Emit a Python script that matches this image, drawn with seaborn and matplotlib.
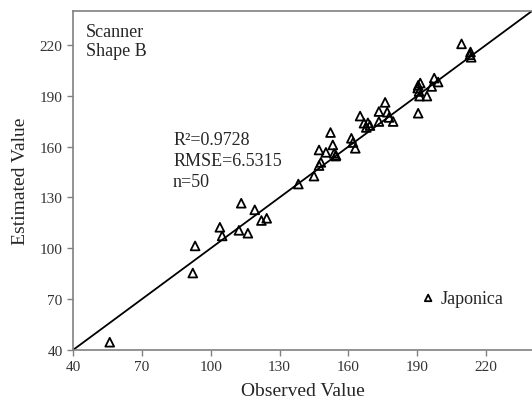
import matplotlib
matplotlib.use("Agg")
import matplotlib.pyplot as plt
import seaborn as sns
import pandas as pd

# valores (Observed x Estimated)
observed = [56.0, 93.2, 92.2, 104.0, 105.0, 113.3, 112.3, 116.2, 119.2, 122.1,
            124.4, 138.2, 145.0, 147.2, 148.0, 147.2, 150.2, 152.2, 153.2, 154.4,
            153.8, 154.6, 161.3, 163.0, 162.0, 165.1, 166.8, 168.5, 167.8, 169.4,
            173.3, 176.0, 173.3, 176.9, 177.7, 179.5, 190.4, 190.4, 191.3, 190.2,
            191.0, 194.2, 196.3, 197.4, 199.1, 209.3, 213.2, 213.5, 213.0, 190.8]
estimated = [44.6, 101.4, 85.4, 112.4, 107.3, 126.6, 110.6, 108.9, 122.7, 116.4,
             117.7, 137.9, 142.6, 148.8, 150.7, 158.0, 156.6, 168.3, 161.0, 154.4,
             156.0, 154.8, 164.9, 159.0, 162.4, 178.0, 173.8, 174.0, 171.3, 172.4,
             180.7, 186.1, 174.8, 180.3, 177.2, 174.8, 179.7, 196.1, 197.5, 194.5,
             189.8, 189.8, 195.5, 200.4, 198.1, 220.6, 215.8, 212.7, 214.2, 192.5]
line_x = [40, 240]
line_y = [40, 240]
ticks = [40, 70, 100, 130, 160, 190, 220]

df = pd.DataFrame({'Observed': observed, 'Estimated': estimated})

sns.set_style('white')
plt.rcParams['font.family'] = ['Liberation Serif', 'DejaVu Serif']

fig = plt.figure(figsize=(5.32, 4.10), dpi=100)
ax = fig.add_axes([73 / 532, 59 / 410, 459 / 532, 339 / 410])

sns.lineplot(x=line_x, y=line_y, color='black', linewidth=1.3, ax=ax)
sns.scatterplot(x='Observed', y='Estimated', data=df, marker='^', s=40,
                facecolors='none', edgecolor='black', linewidth=1.3,
                label='Japonica', ax=ax, zorder=3)

ax.set_xlim(40, 240)
ax.set_ylim(40, 240)
ax.set_xticks(ticks)
ax.set_yticks(ticks)
ax.set_xlabel('Observed Value', fontsize=14, labelpad=6)
ax.set_ylabel('Estimated Value', fontsize=14, labelpad=8)
ax.tick_params(axis='both', direction='out', length=4, width=1, color='#808080',
               labelsize=11, labelcolor='#333333', bottom=True, left=True)

for lado in ['left', 'bottom', 'top']:
    ax.spines[lado].set_color('#808080')
    ax.spines[lado].set_linewidth(1.2)
ax.spines['right'].set_visible(False)

ax.text(0.028, 0.965, 'Scanner\nShape B', transform=ax.transAxes, fontsize=13,
        va='top', ha='left', linespacing=1.2)
ax.text(0.218, 0.645, 'R²=0.9728\nRMSE=6.5315\nn=50', transform=ax.transAxes,
        fontsize=13, va='top', ha='left', linespacing=1.3)

ax.legend(loc='center left', bbox_to_anchor=(0.758, 0.153), frameon=False,
          fontsize=13, markerscale=0.75, handlelength=0.8, handletextpad=0.3,
          borderpad=0, borderaxespad=0)

fig.savefig('out.png', dpi=100)
plt.close(fig)
